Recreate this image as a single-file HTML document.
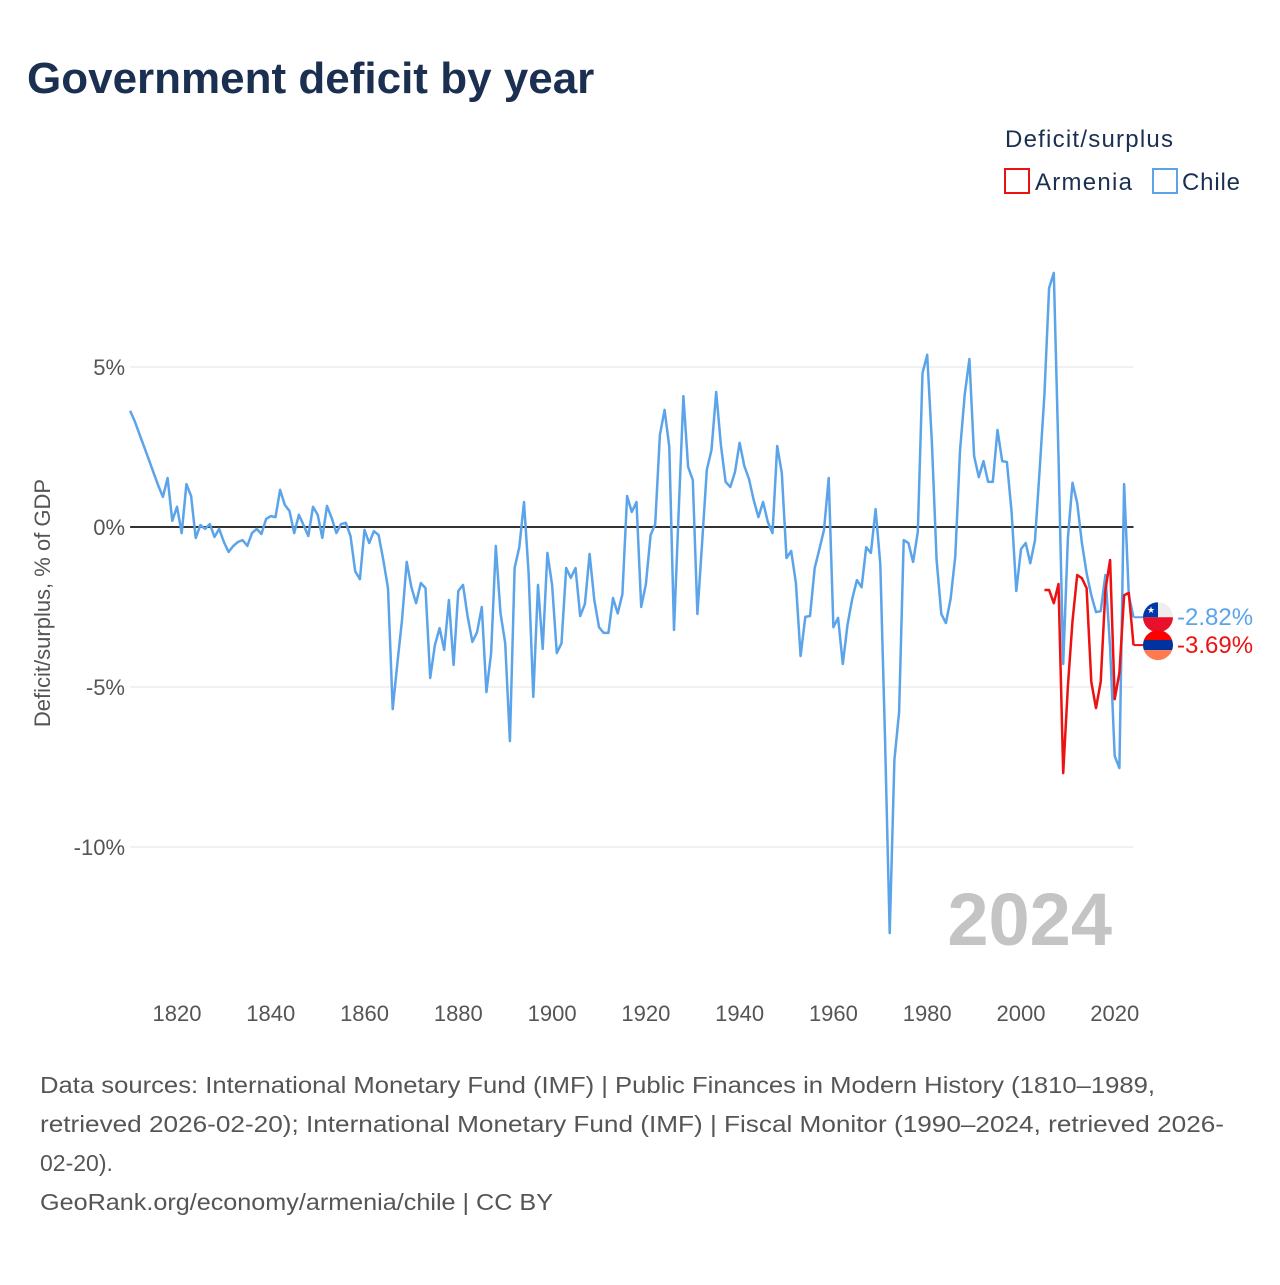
<!DOCTYPE html>
<html><head><meta charset="utf-8"><style>
body{margin:0;background:#fff;width:1280px;height:1280px;overflow:hidden;font-family:"Liberation Sans",sans-serif;}
</style></head><body>
<svg id="chart" width="1280" height="1280" xmlns="http://www.w3.org/2000/svg" font-family="Liberation Sans, sans-serif">
<text x="27" y="93" font-size="44" font-weight="bold" fill="#1b3050">Government deficit by year</text>
<text x="1005" y="147" font-size="24" fill="#1b3050" textLength="168">Deficit/surplus</text>
<g><rect x="1005" y="169" width="24" height="24" fill="none" stroke="#ee1111" stroke-width="2"/><text x="1035" y="190" font-size="24" fill="#1b3050" textLength="97">Armenia</text></g>
<g><rect x="1153" y="169" width="24" height="24" fill="none" stroke="#5ba4ea" stroke-width="2"/><text x="1182" y="190" font-size="24" fill="#1b3050" textLength="58">Chile</text></g>
<text transform="translate(50,603) rotate(-90)" text-anchor="middle" font-size="22" fill="#555">Deficit/surplus, % of GDP</text>
<text x="1112" y="945" text-anchor="end" font-size="74" font-weight="bold" fill="#c4c4c4">2024</text>
<g id="grid"></g><g id="series"></g>
<g font-size="23" fill="#555">
<text x="40" y="1093" textLength="1115" lengthAdjust="spacingAndGlyphs">Data sources: International Monetary Fund (IMF) | Public Finances in Modern History (1810–1989,</text>
<text x="40" y="1132" textLength="1184" lengthAdjust="spacingAndGlyphs">retrieved 2026-02-20); International Monetary Fund (IMF) | Fiscal Monitor (1990–2024, retrieved 2026-</text>
<text x="40" y="1171">02-20).</text>
<text x="40" y="1210" textLength="513" lengthAdjust="spacingAndGlyphs">GeoRank.org/economy/armenia/chile | CC BY</text>
</g>
</svg>
<script>
const chileStart = 1810;
const chileValues = [3.63,3.3,2.9,2.5,2.1,1.7,1.3,0.94,1.53,0.19,0.63,-0.19,1.34,0.97,-0.34,0.06,-0.06,0.09,-0.31,-0.06,-0.47,-0.78,-0.59,-0.47,-0.41,-0.59,-0.19,-0.06,-0.22,0.25,0.34,0.31,1.16,0.69,0.5,-0.19,0.38,0.06,-0.28,0.63,0.38,-0.34,0.66,0.28,-0.19,0.09,0.13,-0.28,-1.38,-1.63,-0.09,-0.5,-0.13,-0.25,-1.03,-1.91,-5.69,-4.25,-2.91,-1.09,-1.88,-2.38,-1.75,-1.91,-4.72,-3.69,-3.16,-3.84,-2.28,-4.31,-2.0,-1.81,-2.81,-3.59,-3.28,-2.5,-5.16,-3.94,-0.59,-2.69,-3.63,-6.69,-1.28,-0.63,0.78,-1.44,-5.31,-1.81,-3.81,-0.81,-1.81,-3.94,-3.63,-1.28,-1.59,-1.28,-2.78,-2.41,-0.84,-2.28,-3.13,-3.31,-3.31,-2.22,-2.7,-2.1,0.97,0.47,0.78,-2.5,-1.78,-0.25,0.09,2.88,3.66,2.5,-3.22,0.5,4.09,1.88,1.47,-2.72,-0.5,1.78,2.41,4.22,2.56,1.41,1.25,1.72,2.63,1.91,1.5,0.84,0.31,0.78,0.16,-0.19,2.53,1.69,-0.97,-0.75,-1.75,-4.03,-2.81,-2.78,-1.28,-0.69,-0.09,1.53,-3.13,-2.84,-4.28,-3.06,-2.25,-1.66,-1.88,-0.63,-0.81,0.56,-1.16,-6.59,-12.69,-7.28,-5.78,-0.41,-0.5,-1.09,-0.16,4.81,5.38,2.63,-1.03,-2.72,-3.0,-2.25,-0.91,2.38,4.13,5.25,2.22,1.56,2.06,1.41,1.41,3.03,2.06,2.03,0.47,-2.0,-0.69,-0.5,-1.13,-0.41,1.81,4.13,7.47,7.94,2.22,-4.28,-0.34,1.38,0.75,-0.5,-1.44,-2.13,-2.66,-2.63,-1.5,-3.75,-7.16,-7.53,1.34,-2.13,-2.82];
const armeniaStart = 2005;
const armeniaValues = [-1.97,-1.97,-2.38,-1.78,-7.69,-4.97,-2.94,-1.5,-1.6,-1.91,-4.84,-5.66,-4.84,-1.97,-1.03,-5.38,-4.56,-2.13,-2.06,-3.69];
const yTicks = [5,0,-5,-10];
const yTickLabels = ["5%","0%","-5%","-10%"];
const xTicks = [1820,1840,1860,1880,1900,1920,1940,1960,1980,2000,2020];

const NS="http://www.w3.org/2000/svg";
const X0=130.1, X1=1133.5, Y0=1810, Y1=2024;
const xs = y => X0 + (y-Y0)*(X1-X0)/(Y1-Y0);
const ys = v => 527 - v*32;
function mk(tag, attrs, parent){const e=document.createElementNS(NS,tag);for(const k in attrs)e.setAttribute(k,attrs[k]);parent.appendChild(e);return e;}
const grid=document.getElementById('grid'), ser=document.getElementById('series');
yTicks.forEach((t,i)=>{
  const l=mk('line',{x1:X0,x2:X1,y1:ys(t),y2:ys(t),stroke:t===0?'#333':'#e3e3e3','stroke-width':t===0?2:1},grid);
  
  
  const tx=mk('text',{x:125,y:ys(t)+8,'text-anchor':'end','font-size':22,fill:'#555'},grid);
  tx.textContent=yTickLabels[i];
  
  
});
xTicks.forEach(t=>{
  const tx=mk('text',{x:xs(t),y:1021,'text-anchor':'middle','font-size':22,fill:'#555'},grid);
  tx.textContent=t;
  
  
});
function series(start, vals, color, name){
  const pts=vals.map((v,i)=>xs(start+i).toFixed(1)+','+ys(v).toFixed(1)).join(' ');
  const p=mk('polyline',{points:pts,fill:'none',stroke:color,'stroke-width':2.5,'stroke-linejoin':'round'},ser);
  
  
}
series(chileStart, chileValues, '#5ba4ea', 'chile');
series(armeniaStart, armeniaValues, '#ee1111', 'armenia');
const cLast=chileValues[chileValues.length-1], aLast=armeniaValues[armeniaValues.length-1];
const cy=ys(cLast), ay=ys(aLast);
mk('line',{x1:X1,x2:1146,y1:cy,y2:cy,stroke:'#5ba4ea','stroke-width':2},ser);
mk('line',{x1:X1,x2:1146,y1:ay,y2:ay,stroke:'#ee1111','stroke-width':2},ser);
const cf=mk('g',{},ser);


const ccp=mk('clipPath',{id:'cc'},cf);mk('circle',{cx:1158,cy:cy,r:15},ccp);
const cg=mk('g',{'clip-path':'url(#cc)'},cf);
mk('rect',{x:1143,y:cy-15,width:30,height:15,fill:'#eee'},cg);
mk('rect',{x:1143,y:cy,width:30,height:15,fill:'#e8112d'},cg);
mk('rect',{x:1143,y:cy-15,width:15,height:15,fill:'#0039a6'},cg);
const st=mk('text',{x:1151,y:cy-4,'text-anchor':'middle','font-size':9,fill:'#fff'},cg);st.textContent='★';
const af=mk('g',{},ser);


const ac=mk('clipPath',{id:'ac'},af);mk('circle',{cx:1158,cy:ay,r:15},ac);
const ag=mk('g',{'clip-path':'url(#ac)'},af);
mk('rect',{x:1143,y:ay-15,width:30,height:10.5,fill:'#f00'},ag);
mk('rect',{x:1143,y:ay-5,width:30,height:10,fill:'#0033a0'},ag);
mk('rect',{x:1143,y:ay+5,width:30,height:10.5,fill:'#ff7a50'},ag);
const cl=mk('text',{x:1177,y:cy+8,'font-size':24,fill:'#5ba4ea'},ser);
cl.textContent=cLast.toFixed(2)+'%';


const al=mk('text',{x:1177,y:ay+8,'font-size':24,fill:'#ee1111'},ser);
al.textContent=aLast.toFixed(2)+'%';


</script>
</body></html>
